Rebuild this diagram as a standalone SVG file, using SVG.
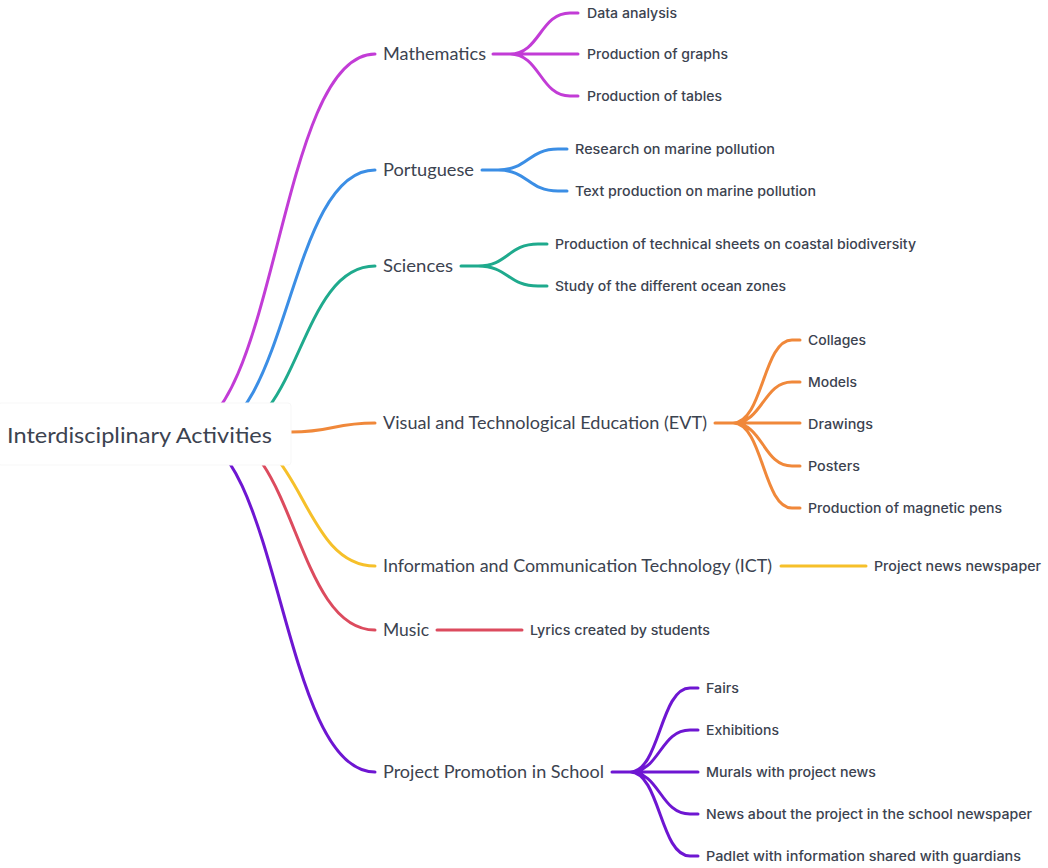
<svg xmlns="http://www.w3.org/2000/svg" width="1048" height="868" viewBox="0 0 1048 868">
  <style>
    text { font-family: "Lato", "Noto Sans", sans-serif; fill: #3c4350; }
    .root { font-size: 22px; }
    .topic { font-size: 16.5px; }
    .leaf { font-family: "Inter", "Lato", sans-serif; font-size: 13px; font-weight: 500; }
    .ln { fill: none; stroke-width: 3; stroke-linecap: round; stroke-linejoin: round; }
    .math { stroke: #c23cd6; }
    .port { stroke: #3b8ee5; }
    .sci { stroke: #1faa8d; }
    .evt { stroke: #f0883a; }
    .ict { stroke: #f6c02a; }
    .mus { stroke: #dc4b5e; }
    .prom { stroke: #6e16d2; }
  </style>
  <rect width="1048" height="868" fill="#ffffff"/>

  <g id="connectors">
    <!-- root to topics -->
    <path class="ln math" d="M180 433 C277.5 433 277.5 54 375 54"/>
    <path class="ln port" d="M202 433 C288.5 433 288.5 170 375 170"/>
    <path class="ln sci" d="M224 433 C299.5 433 299.5 266 375 266"/>
    <path class="ln evt" d="M291 432 C333 432 333 423 375 423"/>
    <path class="ln ict" d="M230 433 C302.5 433 302.5 566 375 566"/>
    <path class="ln mus" d="M215 433 C295 433 295 630 375 630"/>
    <path class="ln prom" d="M186 433 C280.5 433 280.5 772 375 772"/>

    <!-- Mathematics -->
    <path class="ln math" d="M493 54 H510 M510 54 C540 54 540 13 570 13 H578 M510 54 H578 M510 54 C540 54 540 96 570 96 H578"/>
    <!-- Portuguese -->
    <path class="ln port" d="M482 170 H498 M498 170 C528 170 528 149 558 149 H567 M498 170 C528 170 528 191 558 191 H567"/>
    <!-- Sciences -->
    <path class="ln sci" d="M461 266 H478 M478 266 C508 266 508 244 538 244 H547 M478 266 C508 266 508 286 538 286 H547"/>
    <!-- EVT -->
    <path class="ln evt" d="M715 423 H733 M733 423 C763 423 763 340 792 340 H800 M733 423 C763 423 763 382 792 382 H800 M733 423 H800 M733 423 C763 423 763 466 792 466 H800 M733 423 C763 423 763 508 792 508 H800"/>
    <!-- ICT -->
    <path class="ln ict" d="M781 566 H866"/>
    <!-- Music -->
    <path class="ln mus" d="M437 630 H522"/>
    <!-- Project Promotion -->
    <path class="ln prom" d="M612 772 H630 M630 772 C660 772 660 688 690 688 H698 M630 772 C660 772 660 730 690 730 H698 M630 772 H698 M630 772 C660 772 660 814 690 814 H698 M630 772 C660 772 660 856 690 856 H698"/>
  </g>

  <g id="root">
    <rect x="-2" y="403" width="293" height="62" rx="3" fill="#ffffff" stroke="#f7f7f7"/>
    <text class="root" x="7" y="443" textLength="265" lengthAdjust="spacingAndGlyphs">Interdisciplinary Activities</text>
  </g>

  <g id="mathematics">
    <text class="topic" x="383" y="60" textLength="103" lengthAdjust="spacingAndGlyphs">Mathematics</text>
    <text class="leaf" x="587" y="18" textLength="90" lengthAdjust="spacingAndGlyphs">Data analysis</text>
    <text class="leaf" x="587" y="59" textLength="141" lengthAdjust="spacingAndGlyphs">Production of graphs</text>
    <text class="leaf" x="587" y="101" textLength="135" lengthAdjust="spacingAndGlyphs">Production of tables</text>
  </g>

  <g id="portuguese">
    <text class="topic" x="383" y="176" textLength="91" lengthAdjust="spacingAndGlyphs">Portuguese</text>
    <text class="leaf" x="575" y="154" textLength="200" lengthAdjust="spacingAndGlyphs">Research on marine pollution</text>
    <text class="leaf" x="575" y="196" textLength="241" lengthAdjust="spacingAndGlyphs">Text production on marine pollution</text>
  </g>

  <g id="sciences">
    <text class="topic" x="383" y="272" textLength="70" lengthAdjust="spacingAndGlyphs">Sciences</text>
    <text class="leaf" x="555" y="249" textLength="361" lengthAdjust="spacingAndGlyphs">Production of technical sheets on coastal biodiversity</text>
    <text class="leaf" x="555" y="291" textLength="231" lengthAdjust="spacingAndGlyphs">Study of the different ocean zones</text>
  </g>

  <g id="evt">
    <text class="topic" x="383" y="429" textLength="324" lengthAdjust="spacingAndGlyphs">Visual and Technological Education (EVT)</text>
    <text class="leaf" x="808" y="345" textLength="58" lengthAdjust="spacingAndGlyphs">Collages</text>
    <text class="leaf" x="808" y="387" textLength="49" lengthAdjust="spacingAndGlyphs">Models</text>
    <text class="leaf" x="808" y="429" textLength="65" lengthAdjust="spacingAndGlyphs">Drawings</text>
    <text class="leaf" x="808" y="471" textLength="52" lengthAdjust="spacingAndGlyphs">Posters</text>
    <text class="leaf" x="808" y="513" textLength="194" lengthAdjust="spacingAndGlyphs">Production of magnetic pens</text>
  </g>

  <g id="ict">
    <text class="topic" x="383" y="572" textLength="389" lengthAdjust="spacingAndGlyphs">Information and Communication Technology (ICT)</text>
    <text class="leaf" x="874" y="571" textLength="167" lengthAdjust="spacingAndGlyphs">Project news newspaper</text>
  </g>

  <g id="music">
    <text class="topic" x="383" y="636" textLength="46" lengthAdjust="spacingAndGlyphs">Music</text>
    <text class="leaf" x="530" y="635" textLength="180" lengthAdjust="spacingAndGlyphs">Lyrics created by students</text>
  </g>

  <g id="promotion">
    <text class="topic" x="383" y="778" textLength="221" lengthAdjust="spacingAndGlyphs">Project Promotion in School</text>
    <text class="leaf" x="706" y="693" textLength="33" lengthAdjust="spacingAndGlyphs">Fairs</text>
    <text class="leaf" x="706" y="735" textLength="73" lengthAdjust="spacingAndGlyphs">Exhibitions</text>
    <text class="leaf" x="706" y="777" textLength="170" lengthAdjust="spacingAndGlyphs">Murals with project news</text>
    <text class="leaf" x="706" y="819" textLength="326" lengthAdjust="spacingAndGlyphs">News about the project in the school newspaper</text>
    <text class="leaf" x="706" y="861" textLength="315" lengthAdjust="spacingAndGlyphs">Padlet with information shared with guardians</text>
  </g>
</svg>
